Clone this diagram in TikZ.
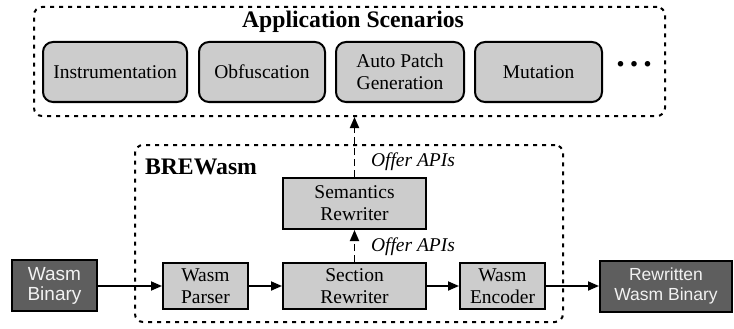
\documentclass[tikz,border=0pt]{standalone}
\usepackage{fontspec}
\setmainfont{Liberation Serif}
\newfontfamily\sansf{Liberation Sans}
\usetikzlibrary{arrows.meta}
\definecolor{lightbox}{HTML}{CCCCCC}
\definecolor{darkbox}{HTML}{5E5E5E}
\definecolor{darktext}{HTML}{F2F2F2}
\tikzset{
  container/.style={draw, line width=2pt, dash pattern=on 4pt off 5pt, rounded corners=8pt, inner sep=0pt},
  appbox/.style={draw, line width=2pt, fill=lightbox, rounded corners=10pt, inner sep=0pt, minimum height=60pt, align=center, font=\fontsize{19.5}{22}\selectfont},
  modbox/.style={draw, line width=2pt, fill=lightbox, inner sep=0pt, align=center, font=\fontsize{19.5}{22}\selectfont},
  binbox/.style={draw, line width=2pt, fill=darkbox, text=darktext, inner sep=0pt, align=center, minimum height=51pt},
  flow/.style={line width=1.8pt, -{Triangle[length=11pt,width=9pt]}},
  api/.style={line width=1.8pt, dash pattern=on 7pt off 4pt, -{Triangle[length=11pt,width=9pt]}},
  apilabel/.style={inner sep=0pt, font=\fontsize{19.5}{22}\selectfont\itshape},
  titlelabel/.style={inner sep=0pt, font=\fontsize{23.7}{26}\selectfont\bfseries}
}
\begin{document}
\begin{tikzpicture}[x=1pt,y=-1pt]
\useasboundingbox (0,0) rectangle (734,329);
% containers
\node[container, minimum width=631pt, minimum height=109pt] (app) at (349.5,61.5) {};
\node[container, minimum width=428pt, minimum height=177pt] (brew) at (349,233.5) {};
\node[titlelabel] (apptitle) at (353,22) {Application Scenarios};
\node[titlelabel] (brewtitle) at (201,167) {BREWasm};
% application boxes
\node[appbox, minimum width=144pt] (instr) at (115,72) {Instrumentation};
\node[appbox, minimum width=126pt] (obf) at (262,72) {Obfuscation};
\node[appbox, minimum width=128pt] (patch) at (400,72) {Auto Patch\\Generation};
\node[appbox, minimum width=127pt] (mut) at (538.5,72) {Mutation};
\node[inner sep=0pt, font=\fontsize{34}{34}\selectfont\bfseries] (dots) at (634,64) {.\hspace{5pt}.\hspace{5pt}.};
% modules
\node[modbox, minimum width=143pt, minimum height=51pt] (sem) at (354.5,203.5) {Semantics\\Rewriter};
\node[modbox, minimum width=143pt, minimum height=46pt] (sec) at (354.5,286) {Section\\Rewriter};
\node[modbox, minimum width=85pt, minimum height=46pt] (parser) at (205.5,286) {Wasm\\Parser};
\node[modbox, minimum width=85pt, minimum height=46pt] (enc) at (502.5,286) {Wasm\\Encoder};
\node[binbox, minimum width=85pt, font=\sansf\fontsize{19}{20}\selectfont] (bin) at (54.5,285.5) {Wasm\\Binary};
\node[binbox, minimum width=132pt, font=\sansf\fontsize{17.5}{20}\selectfont] (rbin) at (666,286) {Rewritten\\Wasm Binary};
% flow
\draw[flow] (bin.east |- 0,286) -- (parser.west |- 0,286);
\draw[flow] (parser) -- (sec);
\draw[flow] (sec) -- (enc);
\draw[flow] (enc.east |- 0,286) -- (rbin.west |- 0,286);
\draw[api] (sec.north) -- (sem.south);
\draw[api] (sem.north) -- (sem.north |- app.south);
\node[apilabel] (api1) at (413,247) {Offer APIs};
\node[apilabel] (api2) at (413,162) {Offer APIs};
\end{tikzpicture}
\end{document}
